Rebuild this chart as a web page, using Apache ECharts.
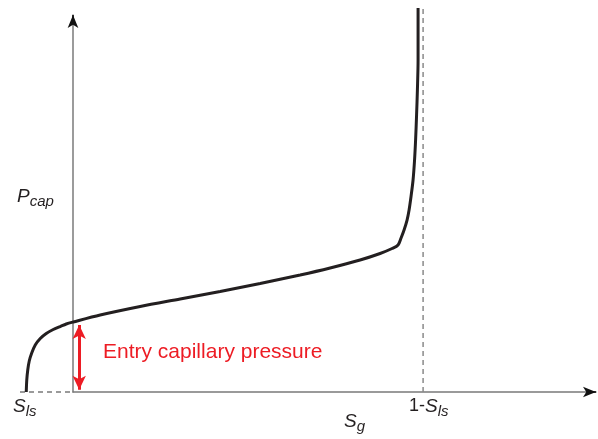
<!DOCTYPE html>
<html><head><meta charset="utf-8">
<script src="https://cdn.jsdelivr.net/npm/echarts@6/dist/echarts.min.js"></script>
<style>html,body{margin:0;padding:0;background:#fff}#c{width:598px;height:439px}</style>
</head><body><div id="c"></div>
<script>
// Capillary pressure curve (schematic) — normalized units
var curveSg = [-0.0909,-0.0899,-0.0880,-0.0851,-0.0803,-0.0735,-0.0638,-0.0522,-0.0387,-0.0251,-0.0135,0,0.0522,0.1296,0.2070,0.2843,0.3617,0.4391,0.4971,0.5551,0.5938,0.6170,0.6286,0.6344,0.6402,0.6460,0.6499,0.6538,0.6576,0.6605,0.6625,0.6644,0.6660,0.6673,0.6673];
var curvePcap = [0,0.0318,0.0584,0.0822,0.1034,0.1247,0.1419,0.1552,0.1658,0.1737,0.1804,0.1857,0.2042,0.2268,0.2467,0.2666,0.2878,0.3103,0.3289,0.3501,0.3674,0.3806,0.3899,0.4085,0.4297,0.4562,0.4828,0.5199,0.5623,0.6154,0.6684,0.7347,0.8011,0.8806,1.0186];
var sls = -0.0909;          // S_ls position
var oneMinusSls = 0.677;    // 1 - S_ls position
var entryPressure = 0.1777; // entry capillary pressure
var baselineStart = -0.103;
var xEnd = 1.0116, yEnd = 1;

var curve = curveSg.map(function(x,i){return [x, curvePcap[i]];});
var ink = '#231f20', axisGray = '#7a7a7a';
var chart = echarts.init(document.getElementById('c'));
var ff = '"Liberation Sans", Arial, sans-serif';
var hidden = {show:false};
var rich = {
  a:{fontSize:19,fontStyle:'italic',fontFamily:ff,fill:ink},
  b:{fontSize:15,fontStyle:'italic',fontFamily:ff,fill:ink,padding:[10,0,0,0]},
  c:{fontSize:18,fontFamily:ff,fill:ink}
};
var axLine = {show:true,lineStyle:{color:axisGray,width:1.5}};
chart.setOption({
  animation:false,
  grid:[{left:73,right:2,top:15,bottom:47},{left:20,right:2,top:15,bottom:47}],
  xAxis:[{type:'value',gridIndex:0,min:0,max:xEnd,axisLine:axLine,
    axisTick:hidden,axisLabel:hidden,splitLine:hidden},
    {type:'value',gridIndex:1,min:baselineStart,max:xEnd,axisLine:hidden,axisTick:hidden,axisLabel:hidden,splitLine:hidden}],
  yAxis:[{type:'value',gridIndex:0,min:0,max:yEnd,axisLine:axLine,
    axisTick:hidden,axisLabel:hidden,splitLine:hidden},
    {type:'value',gridIndex:1,min:0,max:yEnd,axisLine:hidden,axisTick:hidden,axisLabel:hidden,splitLine:hidden}],
  series:[
    {type:'line',xAxisIndex:0,yAxisIndex:0,data:[],symbol:'none',
     markLine:{silent:true,symbol:['none','arrow'],symbolSize:[8,13],
       lineStyle:{color:'#111',width:1.5,type:'solid'},label:{show:false},
       data:[[{coord:[xEnd-0.012,0]},{coord:[xEnd,0]}],
             [{coord:[0,yEnd-0.02]},{coord:[0,yEnd]}]]}},
    {type:'line',xAxisIndex:1,yAxisIndex:1,data:[[baselineStart,0],[0,0]],clip:false,symbol:'none',
     lineStyle:{color:axisGray,width:1.5,type:[5,4]},z:1},
    {type:'line',xAxisIndex:1,yAxisIndex:1,data:[[oneMinusSls,0],[oneMinusSls,curvePcap[curvePcap.length-1]]],clip:false,symbol:'none',
     lineStyle:{color:'#8a8a8a',width:1.5,type:[5,4]},z:1},
    {type:'line',xAxisIndex:1,yAxisIndex:1,data:curve,clip:false,symbol:'none',smooth:0.3,
     lineStyle:{color:ink,width:3},z:3},
    {type:'line',xAxisIndex:1,yAxisIndex:1,data:[],symbol:'none',
     markLine:{silent:true,symbol:['arrow','arrow'],symbolSize:[10,14],
       lineStyle:{color:'#ed1c24',width:3,type:'solid'},label:{show:false},
       data:[[{coord:[0.0116,0.006]},{coord:[0.0116,entryPressure]}]]}}
  ],
  graphic:[
    {type:'text',left:103,top:342,style:{text:'Entry capillary pressure',fill:'#ed1c24',font:'21px '+ff}},
    {type:'text',left:17,top:187,style:{text:'{a|P}{b|cap}',rich:rich}},
    {type:'text',left:13,top:397,style:{text:'{a|S}{b|ls}',rich:rich}},
    {type:'text',left:409,top:397,style:{text:'{c|1-}{a|S}{b|ls}',rich:rich}},
    {type:'text',left:344,top:412,style:{text:'{a|S}{b|g}',rich:rich}}
  ]
});
</script></body></html>
